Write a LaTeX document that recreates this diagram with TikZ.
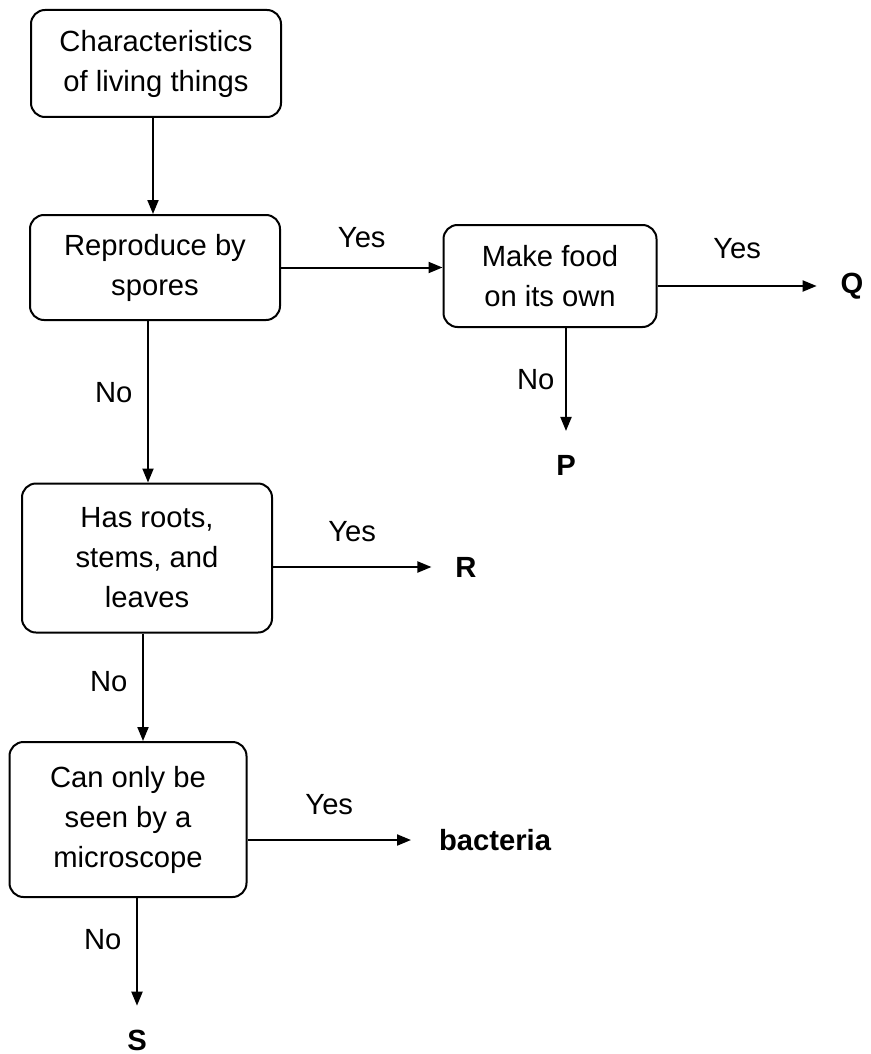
\documentclass[tikz,border=0pt]{standalone}
\usepackage{fontspec}
\setmainfont{Liberation Sans}
\usetikzlibrary{arrows.meta}
\tikzset{
    box/.style={draw, rounded corners=7pt, line width=1pt, align=center, inner sep=2pt,
        font=\fontsize{14.6}{20}\selectfont},
    arr/.style={line width=1pt, -{Triangle[length=7pt,width=5.5pt]}},
    lab/.style={font=\fontsize{14.6}{18}\selectfont},
    leaf/.style={font=\fontsize{14.6}{18}\selectfont\bfseries, inner sep=2pt, outer sep=10pt}
}

\begin{document}
\begin{tikzpicture}[x=0.5pt, y=-0.5pt]
        \useasboundingbox (0,0) rectangle (871,1054);
        \node[box, minimum width=125pt, minimum height=53.5pt] (chars) at (156,63.5) {Characteristics\\of living things};
        \node[box, minimum width=125pt, minimum height=52.5pt] (spores) at (155,267.5) {Reproduce by\\spores};
        \node[box, minimum width=106.5pt, minimum height=51pt] (food) at (550,276) {Make food\\on its own};
        \node[box, minimum width=125pt, minimum height=74.5pt] (roots) at (147,558) {Has roots,\\stems, and\\leaves};
        \node[box, minimum width=118.5pt, minimum height=77.5pt] (micro) at (128,819.5) {Can only be\\seen by a\\microscope};

        \node[leaf] (q) at (852,286) {Q};
        \node[leaf] (p) at (566,465) {P};
        \node[leaf] (r) at (466,567) {R};
        \node[leaf, outer sep=12pt] (bact) at (495,840) {bacteria};
        \node[leaf] (s) at (137,1040) {S};

        \draw[arr] (chars.south -| 153,0) -- (spores.north -| 153,0);
        \draw[arr] (spores.east) -- (food.west |- spores.east) node[lab, midway, above=6pt] (y1) {Yes};
        \draw[arr] (food.east |- q) -- (q) node[lab, midway, above=10pt] (y2) {Yes};
        \draw[arr] (food.south -| p) -- (p) node[lab, midway, left=2pt] (n1) {No};
        \draw[arr] (spores.south -| 148,0) -- (roots.north -| 148,0) node[lab, midway, left=4pt, yshift=4.5pt] (n2) {No};
        \draw[arr] (roots.east |- r) -- (r) node[lab, midway, above=9pt] (y3) {Yes};
        \draw[arr] (roots.south -| 143,0) -- (micro.north -| 143,0) node[lab, midway, left=4pt, yshift=3pt] (n3) {No};
        \draw[arr] (micro.east |- bact) -- (bact) node[lab, midway, above=9pt] (y4) {Yes};
        \draw[arr] (micro.south -| s) -- (s) node[lab, midway, left=4pt, yshift=6pt] (n4) {No};
    \end{tikzpicture}
\end{document}
